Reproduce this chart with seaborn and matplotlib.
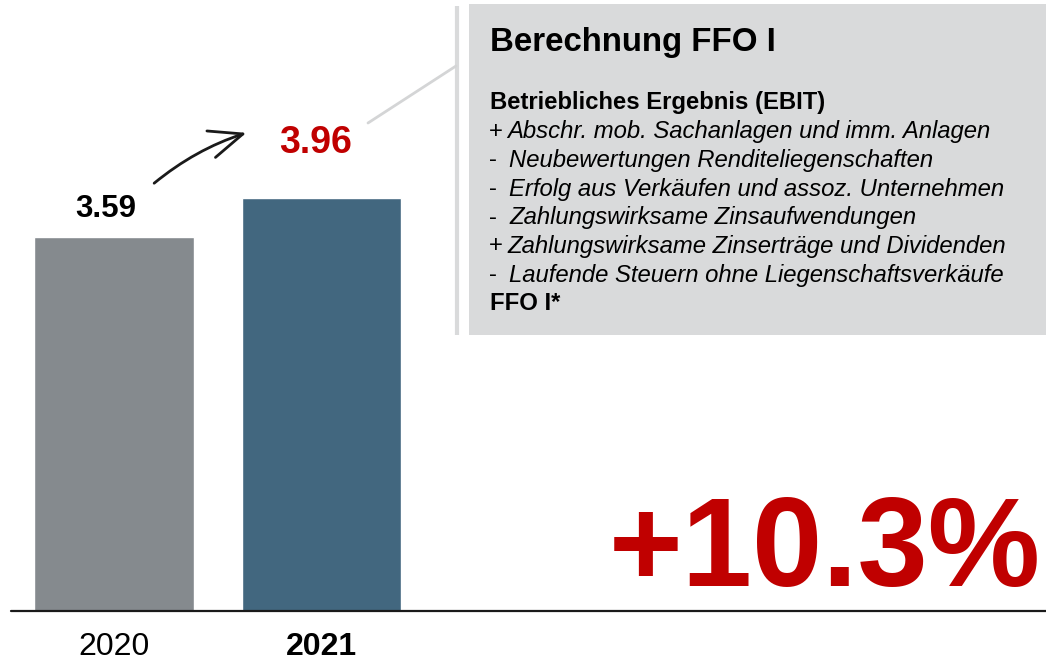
import matplotlib
matplotlib.use("Agg")
import matplotlib.pyplot as plt
import seaborn as sns
import pandas as pd
from matplotlib.patches import Rectangle, FancyArrowPatch

sns.set_theme(style="white")
plt.rcParams['font.family'] = ['Liberation Sans', 'DejaVu Sans']

# ---- data ----
years = ["2020", "2021"]
ffo_values = [3.59, 3.96]
value_labels = ["3.59", "3.96"]
growth_label = "+10.3%"
box_title = "Berechnung FFO I"
box_header = "Betriebliches Ergebnis (EBIT)"
box_signs = ["+", "-", "-", "-", "+", "-"]
box_items = [
    "Abschr. mob. Sachanlagen und imm. Anlagen",
    "Neubewertungen Renditeliegenschaften",
    "Erfolg aus Verkäufen und assoz. Unternehmen",
    "Zahlungswirksame Zinsaufwendungen",
    "Zahlungswirksame Zinserträge und Dividenden",
    "Laufende Steuern ohne Liegenschaftsverkäufe",
]
box_footer = "FFO I*"

bar_colors = ["#858a8e", "#42677f"]
red = "#c00000"

W, H = 1046, 664
fig = plt.figure(figsize=(W / 100, H / 100), dpi=100)
ax = fig.add_axes([0, 0, 1, 1])

df = pd.DataFrame({"year": years, "value": ffo_values})
sns.barplot(data=df, x="year", y="value", hue="year", palette=bar_colors,
            width=0.771, legend=False, ax=ax, saturation=1)

# scales: 207.5 px per category, 104 px per unit, baseline at y=611 px
xpx = 207.5
ypx = 104.2
ax.set_xlim(-114 / xpx, (W - 114) / xpx)
ax.set_ylim(-(H - 611) / ypx, 611 / ypx)
ax.axis("off")

# baseline
ax.axhline(0, xmin=11 / W, xmax=1, color="#1a1a1a", lw=1.6, zorder=5)

# category labels
ax.text(0, -36 / ypx, years[0], ha="center", va="center", fontsize=23, color="black")
ax.text(1, -36 / ypx, years[1], ha="center", va="center", fontsize=23,
        fontweight="bold", color="black")

# value labels
ax.text(0 - 8 / xpx, ffo_values[0] + 28 / ypx, value_labels[0], ha="center",
        va="center", fontsize=22.5, fontweight="bold", color="black")
ax.text(1 - 6 / xpx, ffo_values[1] + 55 / ypx, value_labels[1], ha="center",
        va="center", fontsize=27, fontweight="bold", color=red)

# overlay axes in pixel coordinates for decorations
ov = fig.add_axes([0, 0, 1, 1], facecolor="none")
ov.set_xlim(0, W)
ov.set_ylim(H, 0)
ov.axis("off")

# growth
ov.text(1041, 553, growth_label, ha="right", va="center", fontsize=91,
        fontweight="bold", color=red)

# gray box
ov.add_patch(Rectangle((469, 4), W - 469, 331, facecolor="#d9dadb",
                       edgecolor="none", zorder=1))
ov.plot([457, 457], [6, 335], color="#d9dadb", lw=3, zorder=1,
        solid_capstyle="butt")
ov.plot([368, 456], [123, 66], color="#d4d5d6", lw=2, zorder=1)

ov.text(490, 43, box_title, ha="left", va="center", fontsize=23.8,
        fontweight="bold", color="black", zorder=3)
y0 = 103
dy = 28.7
fs = 17.2
ov.text(490, y0, box_header, ha="left", va="center", fontsize=fs,
        fontweight="bold", color="black", zorder=3)
for i, (s, t) in enumerate(zip(box_signs, box_items)):
    yy = y0 + dy * (i + 1)
    ov.text(489, yy, s, ha="left", va="center", fontsize=fs, color="black", zorder=3)
    ov.text(509 if s == "-" else 507, yy, t, ha="left", va="center", fontsize=fs,
            style="italic", color="black", zorder=3)
ov.text(490, y0 + dy * 7, box_footer, ha="left", va="center", fontsize=fs,
        fontweight="bold", color="black", zorder=3)

# hand-drawn arrow
arr = FancyArrowPatch((152, 185), (249, 132), connectionstyle="arc3,rad=-0.1",
                      arrowstyle="->,head_length=2.4,head_width=1.0", lw=2,
                      color="#1a1a1a", mutation_scale=10, zorder=4)
ov.add_patch(arr)

fig.savefig("out.png", dpi=100)
